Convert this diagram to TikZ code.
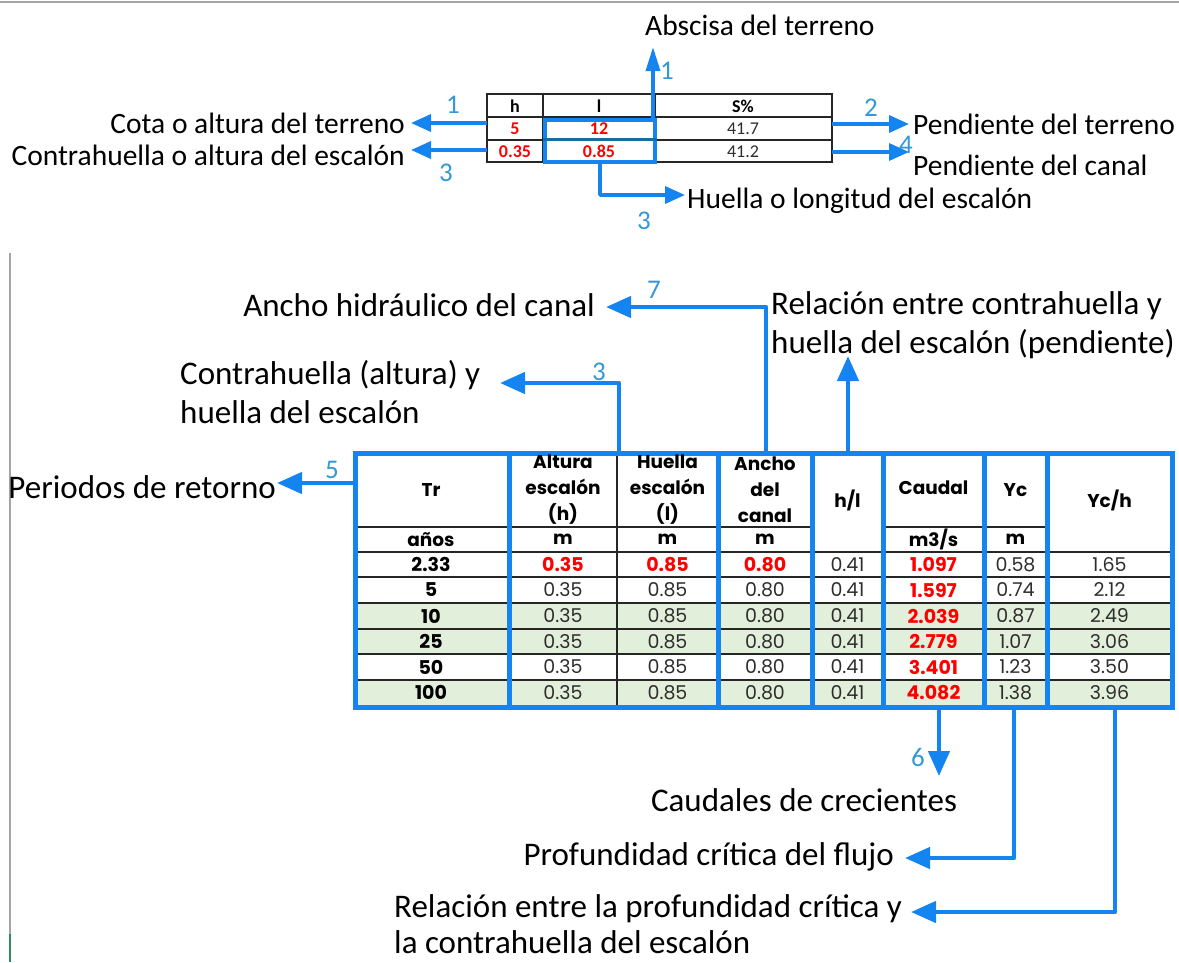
\documentclass[tikz,border=0pt]{standalone}
\usepackage{fontspec}
\setmainfont{Carlito}
\newfontfamily\gothic{Poppins}
\usetikzlibrary{arrows.meta}
\definecolor{bl}{RGB}{20,132,240}
\definecolor{numc}{RGB}{52,152,214}
\definecolor{grn}{RGB}{226,239,218}
\definecolor{rd}{RGB}{255,0,0}
\definecolor{txt}{RGB}{45,45,45}
\definecolor{grayl}{RGB}{165,165,165}
\definecolor{edgeg}{RGB}{46,140,90}
\definecolor{teal}{RGB}{20,110,160}
\tikzset{
 lbl/.style={inner sep=0pt, font=\fontsize{29.5}{37}\selectfont, text=black, align=left},
 lblb/.style={inner sep=0pt, font=\fontsize{33}{39}\selectfont, text=black, align=left},
 num/.style={inner sep=0pt, font=\fontsize{27}{27}\selectfont, text=numc},
 arrS/.style={draw=bl, line width=3.5pt, line join=round, -{Triangle[length=20pt,width=17pt]}},
 arrN/.style={draw=bl, line width=3.5pt, -{Triangle[length=24pt,width=14pt]}},
 arrL/.style={draw=bl, line width=4.5pt, line join=round, -{Triangle[length=25pt,width=21pt]}},
 tt/.style={inner sep=0pt, font=\fontsize{18}{20}\selectfont\bfseries, text=black},
 tr/.style={inner sep=0pt, font=\fontsize{18}{20}\selectfont\bfseries, text=rd},
 tn/.style={inner sep=0pt, font=\fontsize{18}{20}\selectfont, text=txt},
 gh/.style={inner sep=0pt, align=center, font=\gothic\fontsize{18.5}{26}\selectfont\bfseries, text=black},
 gv/.style={inner sep=0pt, font=\gothic\fontsize{19}{20}\selectfont, text=txt},
 gr/.style={inner sep=0pt, font=\gothic\fontsize{19}{20}\selectfont\bfseries, text=rd},
 gb/.style={inner sep=0pt, font=\gothic\fontsize{19}{20}\selectfont\bfseries, text=black},
 thinl/.style={draw=black!85, line width=1.2pt},
 grp/.style={draw=bl, line width=5pt},
}
\begin{document}
\begin{tikzpicture}[x=1pt,y=-1pt]
\useasboundingbox (0,0) rectangle (1179,962);
% frame lines
\draw[grayl, line width=2pt] (0,1.5) -- (1179,1.5);
\draw[grayl, line width=2pt] (9.5,253) -- (9.5,934);
\draw[edgeg, line width=2pt] (9.5,934) -- (9.5,962);

% ---------------- top table ----------------
\draw[thinl] (487,94) rectangle (832,162);
\draw[thinl] (543,94) -- (543,162) (655,94) -- (655,162);
\draw[thinl] (487,117) -- (832,117) (487,140) -- (832,140);
\node[tt] (th) at (515,106) {h};
\node[tt] (tl) at (599,106) {l};
\node[tt] (ts) at (743,106) {S\%};
\node[tr] (t5) at (515,129) {5};
\node[tr] (t12) at (599,129) {12};
\node[tn] (t417) at (743,129) {41.7};
\node[tr] (t035) at (515,151.5) {0.35};
\node[tr] (t085) at (599,151.5) {0.85};
\node[tn] (t412) at (743,151.5) {41.2};
\node[draw=bl, line width=3.5pt, inner sep=0, minimum width=110pt, minimum height=42pt] (lbox) at (600,141) {};
\draw[teal, line width=3pt] (lbox.west |- 0,139) -- (lbox.east |- 0,139);

% top labels
\node[lbl, anchor=west] (abs) at (645,25) {Abscisa del terreno};
\node[lbl, anchor=east] (cota) at (405,123) {Cota o altura del terreno};
\node[lbl, anchor=east] (contra) at (405,155) {Contrahuella o altura del escalón};
\node[lbl, anchor=west] (pter) at (913,124) {Pendiente del terreno};
\node[lbl, anchor=west] (pcan) at (913,165) {Pendiente del canal};
\node[lbl, anchor=west] (huel) at (687,201) {Huella o longitud del escalón};
\node[num] (n1a) at (667,71) {1};
\node[num] (n1b) at (453,105) {1};
\node[num] (n3a) at (446,173) {3};
\node[num] (n2) at (871,108) {2};
\node[num] (n4) at (906,145) {4};
\node[num] (n3b) at (644,221) {3};

% top arrows
\coordinate (absS) at (653,120); \coordinate (absT) at (653,47);
\draw[arrN] (absS) -- (absT);
\coordinate (cotaS) at (487,123); \coordinate (cotaT) at (411,123);
\draw[arrS] (cotaS) -- (cotaT);
\coordinate (conS) at (487,150); \coordinate (conT) at (411,150);
\draw[arrS] (conS) -- (conT);
\coordinate (ptS) at (832,124); \coordinate (ptT) at (909,124);
\draw[arrS] (ptS) -- (ptT);
\coordinate (pcS) at (832,152); \coordinate (pcT) at (909,152);
\draw[arrS] (pcS) -- (pcT);
\coordinate (huS) at (600,162); \coordinate (huT) at (685,195);
\draw[arrS] (huS) |- (huT);

% ---------------- bottom table ----------------
\fill[grn] (355,603) rectangle (1172,654);
\fill[grn] (355,680) rectangle (1172,705);
% thin lines
\draw[thinl] (355,527) -- (812,527) (883,527) -- (1047,527);
\foreach \yy in {552,577,603,629,654,680}{\draw[thinl] (355,\yy) -- (1172,\yy);}
\draw[thinl] (617,453) -- (617,707);
% blue groups
\node[grp, inner sep=0, minimum width=154pt, minimum height=254pt] (gTr) at (432,580) {};
\node[grp, inner sep=0, minimum width=209pt, minimum height=254pt] (gHL) at (613.5,580) {};
\node[grp, inner sep=0, minimum width=94pt, minimum height=254pt] (gB) at (765,580) {};
\node[grp, inner sep=0, minimum width=71pt, minimum height=254pt] (gR) at (847.5,580) {};
\node[grp, inner sep=0, minimum width=101pt, minimum height=254pt] (gQ) at (933.5,580) {};
\node[grp, inner sep=0, minimum width=63pt, minimum height=254pt] (gY) at (1015.5,580) {};
\node[grp, inner sep=0, minimum width=125pt, minimum height=254pt] (gYH) at (1109.5,580) {};

% headers
\node[gh] (hTr) at (431,490) {Tr};
\node[gh] (hAl) at (563,490) {Altura\\escalón\\(h)};
\node[gh] (hHu) at (667.5,490) {Huella\\escalón\\(l)};
\node[gh] (hAn) at (765,490) {Ancho\\del\\canal};
\node[gh] (hR) at (847.5,500) {h/l};
\node[gh] (hQ) at (933.5,488) {Caudal};
\node[gh] (hY) at (1015.5,490) {Yc};
\node[gh] (hYH) at (1109.5,500) {Yc/h};
\node[gh] (uTr) at (431,539.5) {años};
\node[gh] (uAl) at (563,539.5) {m};
\node[gh] (uHu) at (667.5,539.5) {m};
\node[gh] (uAn) at (765,539.5) {m};
\node[gh] (uQ) at (933.5,539.5) {m3/s};
\node[gh] (uY) at (1015.5,539.5) {m};

% data
\node[gb] (tr1) at (431,564.5) {2.33};
\node[gr] (h1) at (563,564.5) {0.35};
\node[gr] (l1) at (667.5,564.5) {0.85};
\node[gr] (b1) at (765,564.5) {0.80};
\node[gv] (r1) at (847.5,564.5) {0.41};
\node[gr] (q1) at (933.5,564.5) {1.097};
\node[gv] (yc1) at (1015.5,564.5) {0.58};
\node[gv] (yh1) at (1109.5,564.5) {1.65};
\foreach \r/\y/\t/\q/\c/\ch in {2/590/5/1.597/0.74/2.12, 3/616/10/2.039/0.87/2.49, 4/641.5/25/2.779/1.07/3.06, 5/667/50/3.401/1.23/3.50, 6/692.5/100/4.082/1.38/3.96}{
 \node[gb] (tr\r) at (431,\y) {\t};
 \node[gv] (h\r) at (563,\y) {0.35};
 \node[gv] (l\r) at (667.5,\y) {0.85};
 \node[gv] (b\r) at (765,\y) {0.80};
 \node[gv] (r\r) at (847.5,\y) {0.41};
 \node[gr] (q\r) at (933.5,\y) {\q};
 \node[gv] (yc\r) at (1015.5,\y) {\c};
 \node[gv] (yh\r) at (1109.5,\y) {\ch};
}

% bottom labels
\node[lblb, anchor=east] (anch) at (595,305) {Ancho hidráulico del canal};
\node[lblb, anchor=west] (relc) at (771,325) {Relación entre contrahuella y\\huella del escalón (pendiente)};
\node[lblb, anchor=west] (conth) at (180,392) {Contrahuella (altura) y\\huella del escalón};
\node[lblb, anchor=east] (peri) at (276,487) {Periodos de retorno};
\node[lblb] (caud) at (804,800) {Caudales de crecientes};
\node[lblb, anchor=east] (prof) at (894,857) {Profundidad crítica del flujo};
\node[lblb, anchor=west, font=\fontsize{33}{36}\selectfont] (relp) at (394,924) {Relación entre la profundidad crítica y\\la contrahuella del escalón};
\node[num] (n7) at (654,290) {7};
\node[num] (n3c) at (599,372) {3};
\node[num] (n5) at (332,470) {5};
\node[num] (n6) at (918,757) {6};

% bottom arrows
\coordinate (trS) at (355,483); \coordinate (trT) at (277,483);
\draw[arrL] (trS) -- (trT);
\coordinate (hlS) at (619,453); \coordinate (hlT) at (500,383);
\draw[arrL] (hlS) |- (hlT);
\coordinate (anS) at (766,453); \coordinate (anT) at (606,307);
\draw[arrL] (anS) |- (anT);
\coordinate (rS) at (848,453); \coordinate (rT) at (848,356);
\draw[arrL] (rS) -- (rT);
\coordinate (qS) at (939,707); \coordinate (qT) at (939,776);
\draw[arrL] (qS) -- (qT);
\coordinate (ycS) at (1014,707); \coordinate (ycT) at (905,858);
\draw[arrL] (ycS) |- (ycT);
\coordinate (yhS) at (1115,707); \coordinate (yhT) at (911,912);
\draw[arrL] (yhS) |- (yhT);
\end{tikzpicture}
\end{document}
